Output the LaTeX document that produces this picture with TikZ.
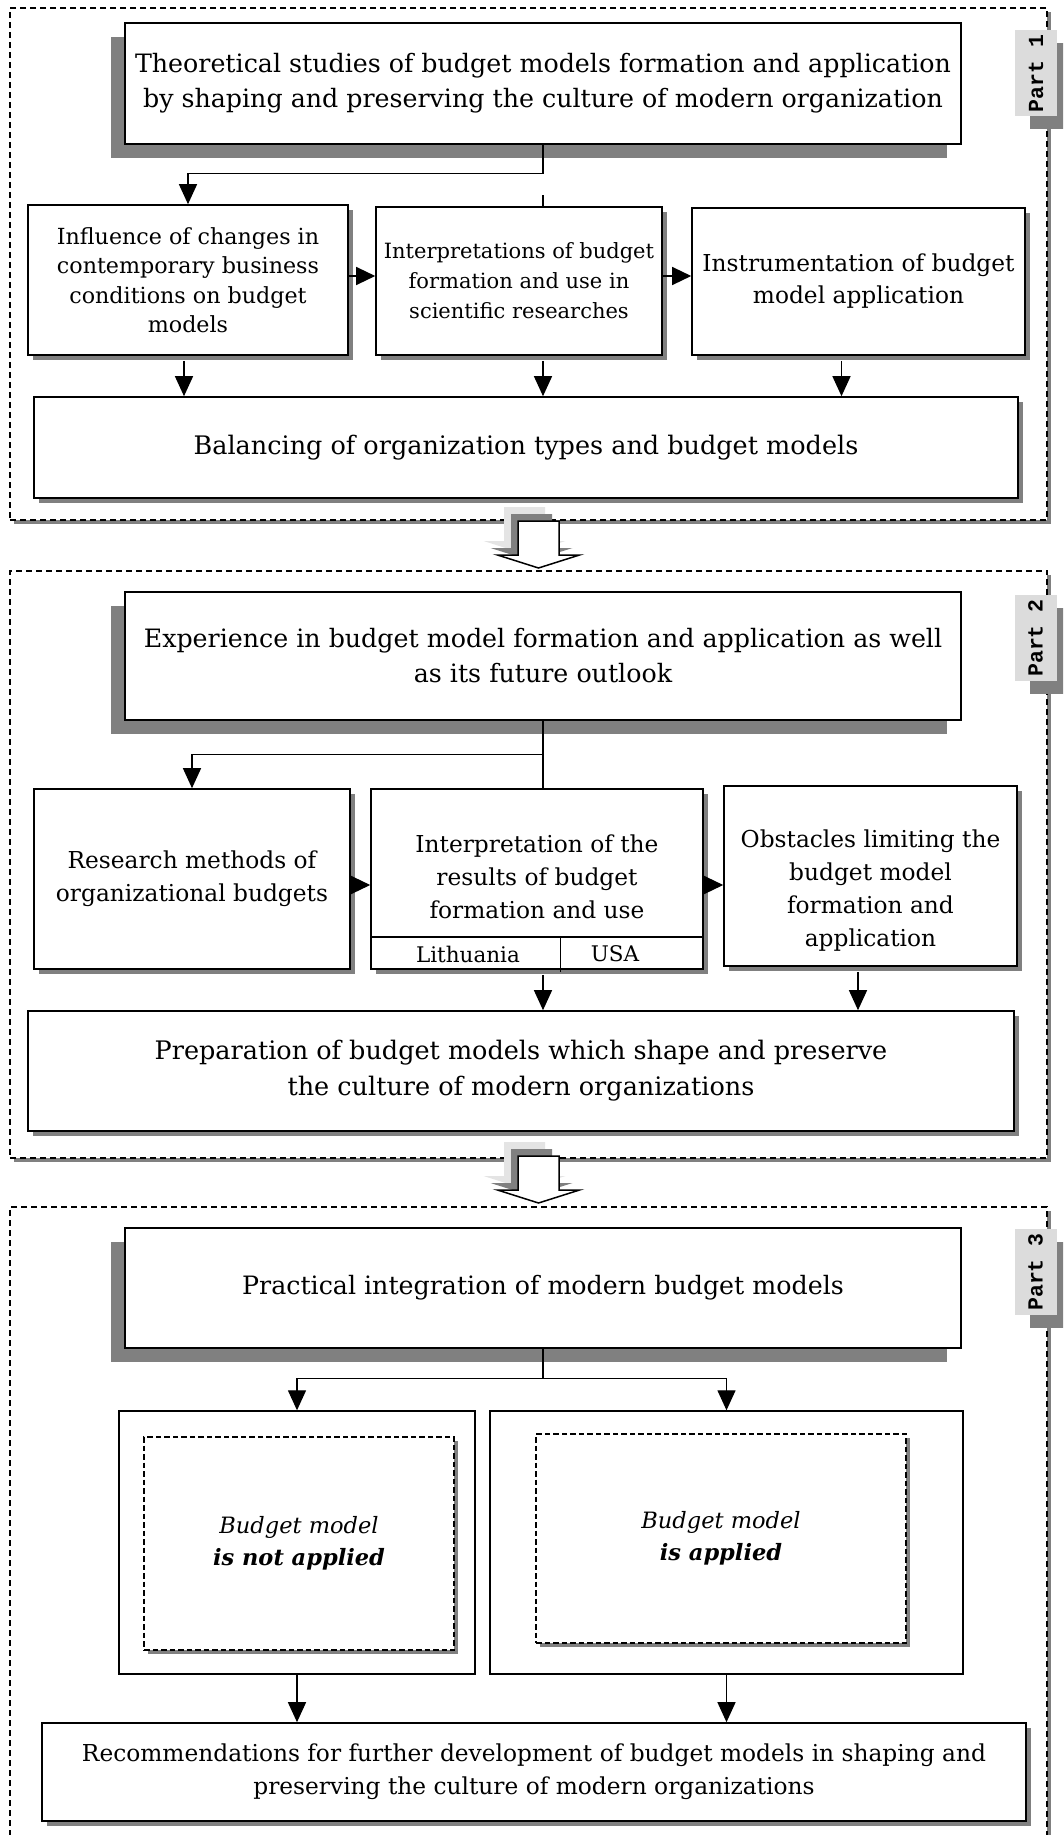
\documentclass[tikz,border=0pt]{standalone}
\usepackage{fontspec}
\setmainfont{DejaVu Serif}
\newfontfamily\tagfont{Liberation Mono}
\usetikzlibrary{shadows}
\usetikzlibrary{arrows.meta}
\definecolor{shadowgray}{RGB}{128,128,128}
\definecolor{taggray}{RGB}{220,220,220}
\definecolor{paleshadow}{RGB}{228,228,228}
\tikzset{
    myframe/.style = {rectangle, draw=black, line width=2pt, dash pattern=on 6pt off 4pt, fill=white, inner sep=0pt, drop shadow={shadow xshift=4pt, shadow yshift=-4pt, fill=shadowgray, opacity=1}},
    mytag/.style = {rectangle, fill=taggray, inner sep=0pt, minimum width=42pt, minimum height=86pt, font=\tagfont\bfseries\fontsize{21.5}{21.5}\selectfont, drop shadow={shadow xshift=15pt, shadow yshift=-13pt, fill=shadowgray, opacity=1}},
    mytop/.style = {rectangle, draw=black, line width=1.6pt, fill=white, align=center, inner sep=0pt, minimum width=836pt, font=\fontsize{25.3}{35}\selectfont, drop shadow={shadow xshift=-14pt, shadow yshift=-14pt, fill=shadowgray, opacity=1}},
    mybox/.style = {rectangle, draw=black, line width=1.6pt, fill=white, align=center, inner sep=0pt, font=\fontsize{23.3}{33}\selectfont, drop shadow={shadow xshift=5pt, shadow yshift=-5pt, fill=shadowgray, opacity=1}},
    myboxs/.style = {mybox, font=\fontsize{22.2}{29.5}\selectfont},
    mywide/.style = {mybox, font=\fontsize{25.5}{36}\selectfont},
    myouter/.style = {rectangle, draw=black, line width=1.4pt, fill=white, inner sep=0pt},
    myinner/.style = {rectangle, draw=black, line width=1.6pt, dash pattern=on 5.5pt off 3pt, fill=white, align=center, inner sep=0pt, font=\fontsize{22.5}{32}\selectfont, drop shadow={shadow xshift=4pt, shadow yshift=-4pt, fill=shadowgray, opacity=1}},
    mytext/.style = {align=center, inner sep=0pt, font=\fontsize{23.3}{33}\selectfont},
    edgen/.style = {-, line width=1.3pt, black},
    edgea/.style = {-{Triangle[width=18pt,length=20pt]}, line width=1.3pt, black},
    edgeh/.style = {-{Triangle[width=18pt,length=19pt]}, line width=1.3pt, black},
    arrowpath/.style = {insert path={(-20.5,0) -- (20.5,0) -- (20.5,34) -- (41,34) -- (0,47) -- (-41,34) -- (-20.5,34) -- cycle}},
    bigarrow/.pic = {
        \path[fill=paleshadow, shift={(-14,-14)}, arrowpath];
        \path[fill=shadowgray, shift={(-7,-7)}, arrowpath];
        \draw[fill=white, line width=1.5pt, arrowpath];
    }
}

\begin{document}
\begin{tikzpicture}[x=1pt, y=-1pt]
\useasboundingbox (0,0) rectangle (1063,1835);
\clip (0,0) rectangle (1063,1835);
% parts
\node[myframe, minimum width=1037pt, minimum height=512pt] at (528.5, 264.0) (part1) {};
\node[myframe, minimum width=1037pt, minimum height=587.5pt] at (528.5, 864.25) (part2) {};
\node[myframe, minimum width=1037pt, minimum height=653pt] at (528.5, 1533.5) (part3) {};
\node[mytag] at (1036.0, 73.5) (tag1) {\rotatebox{90}{Part 1}};
\node[mytag] at (1035.5, 638.0) (tag2) {\rotatebox{90}{Part 2}};
\node[mytag] at (1035.5, 1272.0) (tag3) {\rotatebox{90}{Part 3}};
%
\node[mytop, minimum height=121pt] at (543.0, 83.5) (top1) {Theoretical studies of budget models formation and application\\by shaping and preserving the culture of modern organization};
\node[myboxs, minimum width=320pt, minimum height=150pt] at (188.0, 280.0) (a1) {Influence of changes in\\contemporary business\\conditions on budget\\models};
\node[mybox, minimum width=286pt, minimum height=148pt, font=\fontsize{21}{30}\selectfont] at (519.0, 281.0) (b1) {Interpretations of budget\\formation and use in\\scientific researches};
\node[mybox, minimum width=333pt, minimum height=147pt, font=\fontsize{23.3}{32}\selectfont] at (858.5, 281.5) (c1) {Instrumentation of budget\\model application};
\node[mywide, minimum width=984pt, minimum height=101pt] at (526.0, 447.5) (d1) {Balancing of organization types and budget models};
%
\node[mytop, minimum height=128pt] at (543.0, 656.0) (top2) {Experience in budget model formation and application as well\\as its future outlook};
\node[mybox, minimum width=316pt, minimum height=180pt] at (192.0, 879.0) (e2) {Research methods of\\organizational budgets};
\node[mybox, minimum width=332pt, minimum height=180pt] at (537.0, 879.0) (f2) {};
\node[mytext] at (537.0, 877.0) (f2t) {Interpretation of the\\results of budget\\formation and use};
\node[mybox, minimum width=293pt, minimum height=180pt] at (870.5, 876.0) (g2) {};
\node[mytext] at (870.5, 891.0) (g2t) {Obstacles limiting the\\budget model\\formation and\\application};
\node[mytext, font=\fontsize{21.5}{21.5}\selectfont] at (468.0, 954.0) (lt2) {Lithuania};
\node[mytext, font=\fontsize{21.5}{21.5}\selectfont] at (615.0, 954.0) (us2) {USA};
\node[mywide, minimum width=986pt, minimum height=120pt] at (521.0, 1071.0) (h2) {Preparation of budget models which shape and preserve\\the culture of modern organizations};
%
\node[mytop, minimum height=120pt] at (543.0, 1288.0) (top3) {Practical integration of modern budget models};
\node[myouter, minimum width=356pt, minimum height=263pt] at (297.0, 1542.5) (i3) {};
\node[myinner, minimum width=310pt, minimum height=213pt] at (299.0, 1543.5) (i3in) {\itshape Budget model\\\bfseries\itshape is not applied};
\node[myouter, minimum width=473pt, minimum height=263pt] at (726.5, 1542.5) (j3) {};
\node[myinner, minimum width=370pt, minimum height=209pt] at (721.0, 1538.5) (j3in) {\itshape Budget model\\\bfseries\itshape is applied};
\node[mybox, minimum width=984pt, minimum height=98pt, font=\fontsize{23.3}{33}\selectfont] at (534.0, 1772.0) (k3) {Recommendations for further development of budget models in shaping and\\preserving the culture of modern organizations};
%
\draw[edgea] (top1.south) -- ++(0,29) -| (a1.north);
\draw[edgen] (b1.north -| top1.south) -- ++(0,-11);
\draw[edgeh] ([yshift=4pt]a1.east) -- ([yshift=5pt]b1.west);
\draw[edgeh] ([yshift=5pt]b1.east) -- ([yshift=5.5pt]c1.west);
\coordinate (a1o) at ([xshift=-4pt]a1.south);
\coordinate (b1o) at (b1.south -| top1.south);
\coordinate (c1o) at ([xshift=-17pt]c1.south);
\draw[edgea, shorten <=5pt] (a1o) -- (a1o |- d1.north);
\draw[edgea, shorten <=5pt] (b1o) -- (b1o |- d1.north);
\draw[edgea, shorten <=5pt] (c1o) -- (c1o |- d1.north);
%
\draw[edgea] (top2.south) -- ++(0,34) -| (e2.north);
\draw[edgen] (top2.south) -- (f2.north -| top2.south);
\draw[edgeh] ([yshift=-6pt]e2.east) -- ([yshift=-6pt]f2.west);
\draw[edgeh] ([yshift=-6pt]f2.east) -- ([yshift=-9pt]g2.west);
\coordinate (fsw) at ([yshift=33pt]f2.south west);
\coordinate (fse) at ([yshift=33pt]f2.south east);
\coordinate (fst) at ([xshift=190pt, yshift=33pt]f2.south west);
\coordinate (fsb) at ([xshift=190pt, yshift=-2pt]f2.south west);
\draw[edgen, line width=1.4pt] (fsw) -- (fse);
\draw[edgen, line width=1.4pt] (fst) -- (fsb);
\coordinate (f2o) at (f2.south -| top2.south);
\coordinate (g2o) at ([xshift=-12.5pt]g2.south);
\draw[edgea, shorten <=5pt] (f2o) -- (f2o |- h2.north);
\draw[edgea, shorten <=5pt] (g2o) -- (g2o |- h2.north);
%
\draw[edgen] (top3.south) -- ++(0,30) coordinate (fork3);
\draw[edgea] (fork3) -| (i3.north);
\draw[edgea] (fork3) -| (j3.north);
\draw[edgea] (i3.south) -- (i3.south |- k3.north);
\draw[edgea] (j3.south) -- (j3.south |- k3.north);
% between parts
\pic at ([xshift=10pt]part1.south) {bigarrow};
\pic at ([xshift=10pt, yshift=3pt]part2.south) {bigarrow};
\end{tikzpicture}
\end{document}
